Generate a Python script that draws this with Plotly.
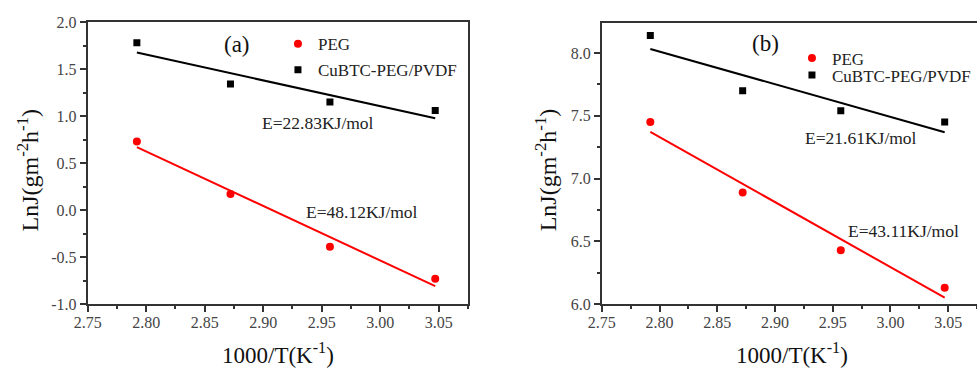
import numpy as np
import plotly.graph_objects as go

# ---- data ----
inv_T = [2.792, 2.872, 2.957, 3.047]
a_peg = [0.73, 0.17, -0.39, -0.73]
a_cubtc = [1.78, 1.34, 1.15, 1.06]
b_peg = [7.45, 6.89, 6.43, 6.13]
b_cubtc = [8.14, 7.70, 7.54, 7.45]
x_ticks = [2.75, 2.80, 2.85, 2.90, 2.95, 3.00, 3.05]
x_ticktext = ["2.75", "2.80", "2.85", "2.90", "2.95", "3.00", "3.05"]
ya_ticks = [-1.0, -0.5, 0.0, 0.5, 1.0, 1.5, 2.0]
ya_ticktext = ["-1.0", "-0.5", "0.0", "0.5", "1.0", "1.5", "2.0"]
yb_ticks = [6.0, 6.5, 7.0, 7.5, 8.0]
yb_ticktext = ["6.0", "6.5", "7.0", "7.5", "8.0"]
labels_E = {"a_cubtc": "E=22.83KJ/mol", "a_peg": "E=48.12KJ/mol",
            "b_cubtc": "E=21.61KJ/mol", "b_peg": "E=43.11KJ/mol"}
series_names = ["PEG", "CuBTC-PEG/PVDF"]

FONT = "Liberation Serif"
RED = "#ff0000"
BLK = "#000000"


def fit(x, y):
    k, b = np.polyfit(x, y, 1)
    xs = np.array([x[0], x[-1]])
    return xs, k * xs + b


fig = go.Figure()


def add_panel(xa, ya, peg, cub, leg_peg, leg_cub):
    for yv, col in ((cub, BLK), (peg, RED)):
        fx, fy = fit(inv_T, yv)
        fig.add_trace(go.Scatter(x=fx, y=fy, mode="lines", line=dict(color=col, width=2),
                                 showlegend=False, xaxis=xa, yaxis=ya, hoverinfo="skip"))
    fig.add_trace(go.Scatter(x=inv_T, y=peg, mode="markers", name=series_names[0],
                             marker=dict(color=RED, size=8, symbol="circle"),
                             xaxis=xa, yaxis=ya, legend=leg_peg))
    fig.add_trace(go.Scatter(x=inv_T, y=cub, mode="markers", name=series_names[1],
                             marker=dict(color=BLK, size=7, symbol="square"),
                             xaxis=xa, yaxis=ya, legend=leg_cub))


add_panel("x", "y", a_peg, a_cubtc, "legend", "legend2")
add_panel("x2", "y2", b_peg, b_cubtc, "legend3", "legend4")


def axis_common(standoff):
    return dict(
        showgrid=False, zeroline=False, showline=True, linecolor="#333", linewidth=2,
        ticks="outside", ticklen=6, tickwidth=1.5, tickcolor="#333", automargin=False,
        ticklabelstandoff=standoff,
        tickfont=dict(family=FONT, size=16, color="#444"),
    )


def leg(x, y):
    return dict(x=x, y=y, xanchor="left", yanchor="top", bgcolor="rgba(0,0,0,0)",
                font=dict(family=FONT, size=17, color="#222"), tracegroupgap=0)


fig.update_layout(
    width=977, height=370,
    margin=dict(l=0, r=0, t=0, b=0, autoexpand=False),
    paper_bgcolor="white", plot_bgcolor="white",
    font=dict(family=FONT, color="#222"),
    xaxis=dict(domain=[0.0898, 0.479], range=[2.75, 3.075], tickvals=x_ticks, ticktext=x_ticktext,
               mirror=True, anchor="y",
               minor=dict(dtick=0.025, tick0=2.75, ticks="outside", ticklen=3, tickcolor="#333"),
               **axis_common(-3)),
    yaxis=dict(domain=[0.178, 0.9405], range=[-1.0, 2.0], tickvals=ya_ticks, ticktext=ya_ticktext,
               mirror=True, anchor="x",
               minor=dict(dtick=0.25, tick0=0, ticks="outside", ticklen=3, tickcolor="#333"),
               **axis_common(0)),
    xaxis2=dict(domain=[0.616, 1.0], range=[2.75, 3.075], tickvals=x_ticks, ticktext=x_ticktext,
                mirror=True, anchor="y2",
                minor=dict(dtick=0.025, tick0=2.75, ticks="outside", ticklen=3, tickcolor="#333"),
                **axis_common(-3)),
    yaxis2=dict(domain=[0.178, 0.938], range=[6.0, 8.24], tickvals=yb_ticks, ticktext=yb_ticktext,
                mirror=False, anchor="x2",
                minor=dict(dtick=0.25, tick0=6.0, ticks="outside", ticklen=3, tickcolor="#333"),
                **axis_common(0)),
    legend=leg(0.2845, 0.929),
    legend2=leg(0.2845, 0.859),
    legend3=leg(0.8106, 0.891),
    legend4=leg(0.8106, 0.845),
)

ann = []
ann.append(dict(x=2.8775, y=1.766, xref="x", yref="y", text="(a)", showarrow=False,
                font=dict(family=FONT, size=23, color="#111")))
ann.append(dict(x=2.947, y=0.924, xref="x", yref="y", text=labels_E["a_cubtc"], showarrow=False,
                font=dict(family=FONT, size=17.5, color="#222")))
ann.append(dict(x=2.984, y=-0.023, xref="x", yref="y", text=labels_E["a_peg"], showarrow=False,
                font=dict(family=FONT, size=17.5, color="#222")))
ann.append(dict(x=2.8916, y=8.08, xref="x2", yref="y2", text="(b)", showarrow=False,
                font=dict(family=FONT, size=23, color="#111")))
ann.append(dict(x=2.9745, y=7.325, xref="x2", yref="y2", text=labels_E["b_cubtc"], showarrow=False,
                font=dict(family=FONT, size=17.5, color="#222")))
ann.append(dict(x=3.011, y=6.583, xref="x2", yref="y2", text=labels_E["b_peg"], showarrow=False,
                font=dict(family=FONT, size=17.5, color="#222")))

ytitle = "LnJ(gm<sup>-2</sup>h<sup>-1</sup>)"
xtitle = "1000/T(K<sup>-1</sup>)"
for xc in (0.029, 0.559):
    ann.append(dict(x=xc, y=0.54, xref="paper", yref="paper", text=ytitle, textangle=-90,
                    xanchor="center", yanchor="middle",
                    showarrow=False, font=dict(family=FONT, size=24, color="#111")))
for xc in (0.2846, 0.8106):
    ann.append(dict(x=xc, y=0.0, xref="paper", yref="paper", text=xtitle,
                    xanchor="center", yanchor="bottom",
                    showarrow=False, font=dict(family=FONT, size=23, color="#111")))
fig.update_layout(annotations=ann)

fig.write_html("out.html")
